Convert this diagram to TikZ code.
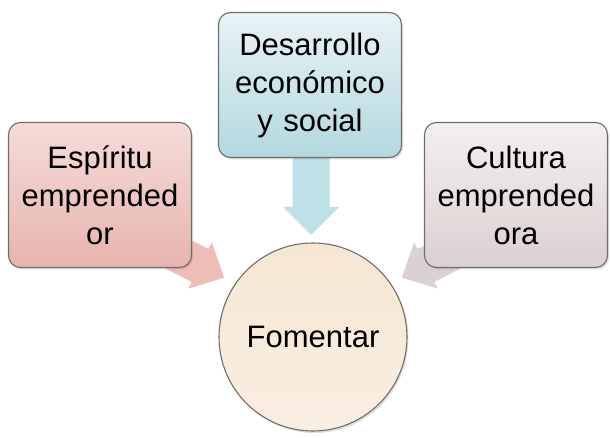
\documentclass[tikz,border=0pt]{standalone}
\usepackage{fontspec}
\setmainfont{Liberation Sans}
\usetikzlibrary{shadows}
\definecolor{lboxT}{HTML}{F5DCD8}
\definecolor{lboxB}{HTML}{E7B4AE}
\definecolor{tboxT}{HTML}{E8F3F6}
\definecolor{tboxB}{HTML}{B3D8DF}
\definecolor{rboxT}{HTML}{F4EFEF}
\definecolor{rboxB}{HTML}{DBD0D1}
\definecolor{circT}{HTML}{F6E7D3}
\definecolor{circB}{HTML}{F8EEE2}
\definecolor{larr}{HTML}{EDBDB6}
\definecolor{tarr}{HTML}{BEE1E7}
\definecolor{rarr}{HTML}{DAD1D3}
\definecolor{edge}{HTML}{6E6E6E}
\tikzset{
  box/.style={draw=edge, line width=1.1pt, rounded corners=12pt, minimum width=183pt, minimum height=145pt,
    text width=175pt, align=center, font=\fontsize{31}{38}\selectfont,
    drop shadow={opacity=0.25, shadow xshift=1.5pt, shadow yshift=-2pt}},
  circ/.style={circle, draw=edge, line width=1.1pt, minimum size=188pt, font=\fontsize{31}{38}\selectfont,
    top color=circT, bottom color=circB,
    drop shadow={opacity=0.25, shadow xshift=1.5pt, shadow yshift=-2pt}},
}
% block arrow: #1 tail coord, #2 angle, #3 length, #4 shaft width, #5 head width, #6 head length, #7 colour
\newcommand{\blockarr}[7]{%
  \begin{scope}[shift={#1}, rotate=#2]
    \fill[#7] (0,-#4/2) -- (#3-#6,-#4/2) -- (#3-#6,-#5/2) -- (#3,0) -- (#3-#6,#5/2) -- (#3-#6,#4/2) -- (0,#4/2) -- cycle;
  \end{scope}}
\begin{document}
\begin{tikzpicture}[x=1pt,y=1pt]
\useasboundingbox (0,0) rectangle (610,-438);
% arrows (behind boxes)
\blockarr{(311,-156)}{-90}{79}{37}{56}{28}{tarr}
\blockarr{(160,-245)}{-27}{72}{37}{52}{27}{larr}
\blockarr{(466,-245)}{-153}{72}{37}{52}{27}{rarr}
% boxes
\node[box, top color=lboxT, bottom color=lboxB] (esp) at (100,-195) {Espíritu\\emprended\\or};
\node[box, top color=tboxT, bottom color=tboxB] (des) at (310,-85) {Desarrollo\\económico\\y social};
\node[box, top color=rboxT, bottom color=rboxB] (cul) at (516,-195) {Cultura\\emprended\\ora};
\node[circ] (fom) at (313,-337) {Fomentar};
\end{tikzpicture}
\end{document}
